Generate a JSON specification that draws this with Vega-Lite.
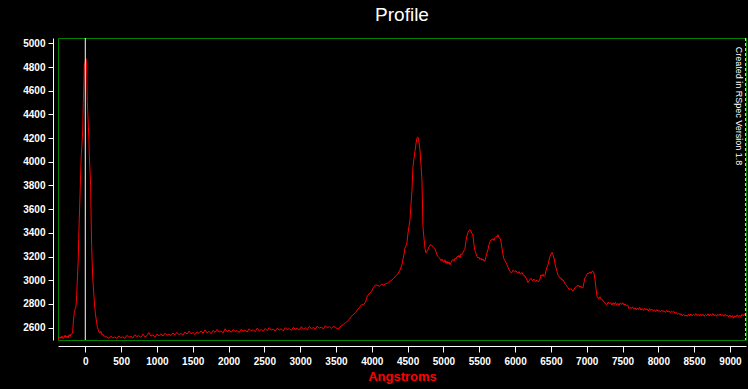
{
"$schema": "https://vega.github.io/schema/vega-lite/v6.json",
"width": 688, "height": 302,
"autosize": "none",
"padding": {"left": 58, "top": 38, "right": 2, "bottom": 49},
"background": "#000000",
"title": {"text": "Profile", "color": "#FFFFFF", "fontSize": 19, "font": "Liberation Sans", "fontWeight": "normal", "anchor": "middle", "baseline": "alphabetic", "offset": -2},
"config": {"view": {"stroke": "#008000", "strokeWidth": 1},
 "axis": {"labelOverlap": false, "labelFlush": false, "grid": false, "tickColor": "#FFFFFF", "domainColor": "#FFFFFF", "labelColor": "#FFFFFF", "labelFont": "Liberation Sans", "labelFontWeight": "bold", "labelFontSize": 10, "format": "d"}},
"datasets": {"spectrum": [
{"x":-381,"y":2512},{"x":-366,"y":2505},{"x":-352,"y":2522},{"x":-338,"y":2510},{"x":-324,"y":2528},{"x":-310,"y":2506},{"x":-296,"y":2518},{"x":-282,"y":2535},{"x":-268,"y":2515},{"x":-254,"y":2530},{"x":-240,"y":2512},{"x":-226,"y":2540},{"x":-212,"y":2525},{"x":-198,"y":2545},{"x":-184,"y":2548},{"x":-176,"y":2552},
{"x":-168,"y":2640},{"x":-160,"y":2690},{"x":-154,"y":2724},{"x":-146,"y":2745},{"x":-140,"y":2760},{"x":-130,"y":2780},{"x":-120,"y":2870},{"x":-112,"y":2990},{"x":-100,"y":3150},{"x":-92,"y":3342},{"x":-84,"y":3520},{"x":-74,"y":3707},{"x":-66,"y":3880},{"x":-56,"y":4058},{"x":-46,"y":4150},{"x":-36,"y":4269},{"x":-28,"y":4494},{"x":-20,"y":4650},{"x":-14,"y":4817},{"x":-6,"y":4830},{"x":0,"y":4845},{"x":6,"y":4860},{"x":12,"y":4870},{"x":18,"y":4800},{"x":22,"y":4700},{"x":28,"y":4508},{"x":36,"y":4400},{"x":42,"y":4311},{"x":50,"y":4200},{"x":56,"y":4058},{"x":66,"y":3920},{"x":75,"y":3791},{"x":82,"y":3500},{"x":89,"y":3285},{"x":96,"y":3150},{"x":103,"y":3033},{"x":112,"y":2950},{"x":121,"y":2864},{"x":130,"y":2790},{"x":140,"y":2724},{"x":150,"y":2680},{"x":159,"y":2640},{"x":170,"y":2600},{"x":181,"y":2583},{"x":192,"y":2560},{"x":205,"y":2555},{"x":218,"y":2568},{"x":230,"y":2540},{"x":244,"y":2545},{"x":258,"y":2525},{"x":272,"y":2530},{"x":286,"y":2518},{"x":300,"y":2522},
{"x":328,"y":2510},{"x":356,"y":2528},{"x":384,"y":2512},{"x":412,"y":2520},{"x":440,"y":2508},{"x":468,"y":2530},{"x":496,"y":2515},{"x":524,"y":2522},{"x":552,"y":2510},{"x":580,"y":2535},{"x":608,"y":2518},{"x":636,"y":2526},{"x":664,"y":2512},{"x":692,"y":2540},{"x":720,"y":2524},{"x":748,"y":2532},{"x":776,"y":2515},{"x":804,"y":2545},{"x":832,"y":2522},{"x":860,"y":2530},{"x":888,"y":2558},{"x":916,"y":2528},{"x":944,"y":2538},{"x":972,"y":2520},{"x":1000,"y":2545},{"x":1028,"y":2530},{"x":1056,"y":2548},{"x":1084,"y":2528},{"x":1112,"y":2552},{"x":1140,"y":2535},{"x":1168,"y":2545},{"x":1196,"y":2532},{"x":1224,"y":2555},{"x":1252,"y":2538},{"x":1280,"y":2560},{"x":1308,"y":2540},{"x":1336,"y":2550},{"x":1364,"y":2535},{"x":1392,"y":2562},{"x":1420,"y":2545},{"x":1448,"y":2570},{"x":1476,"y":2548},{"x":1504,"y":2558},{"x":1532,"y":2542},{"x":1560,"y":2565},{"x":1588,"y":2550},{"x":1616,"y":2572},{"x":1644,"y":2552},{"x":1672,"y":2580},{"x":1700,"y":2555},{"x":1728,"y":2568},{"x":1756,"y":2548},{"x":1784,"y":2575},{"x":1812,"y":2560},{"x":1840,"y":2585},{"x":1868,"y":2562},{"x":1896,"y":2572},{"x":1924,"y":2555},{"x":1952,"y":2590},{"x":1980,"y":2565},{"x":2008,"y":2578},{"x":2036,"y":2560},{"x":2064,"y":2582},{"x":2092,"y":2568},{"x":2120,"y":2575},{"x":2148,"y":2558},{"x":2176,"y":2585},{"x":2204,"y":2570},{"x":2232,"y":2580},{"x":2260,"y":2562},{"x":2288,"y":2590},{"x":2316,"y":2572},{"x":2344,"y":2582},{"x":2372,"y":2565},{"x":2400,"y":2595},{"x":2428,"y":2570},{"x":2456,"y":2585},{"x":2484,"y":2568},{"x":2512,"y":2592},{"x":2540,"y":2575},{"x":2568,"y":2600},{"x":2596,"y":2578},{"x":2624,"y":2588},{"x":2652,"y":2570},{"x":2680,"y":2595},{"x":2708,"y":2580},{"x":2736,"y":2590},{"x":2764,"y":2572},{"x":2792,"y":2600},{"x":2820,"y":2582},{"x":2848,"y":2592},{"x":2876,"y":2575},{"x":2904,"y":2602},{"x":2932,"y":2585},{"x":2960,"y":2595},{"x":2988,"y":2578},{"x":3016,"y":2608},{"x":3044,"y":2588},{"x":3072,"y":2598},{"x":3100,"y":2582},{"x":3128,"y":2610},{"x":3156,"y":2590},{"x":3184,"y":2600},{"x":3212,"y":2585},{"x":3240,"y":2612},{"x":3268,"y":2595},{"x":3296,"y":2605},{"x":3324,"y":2588},{"x":3352,"y":2615},{"x":3380,"y":2598},{"x":3408,"y":2608},{"x":3436,"y":2592},{"x":3464,"y":2612},{"x":3492,"y":2600},{"x":3520,"y":2590},{"x":3548,"y":2595},
{"x":3576,"y":2618},{"x":3604,"y":2625},{"x":3632,"y":2640},{"x":3660,"y":2655},{"x":3688,"y":2670},{"x":3716,"y":2695},{"x":3744,"y":2712},{"x":3772,"y":2725},{"x":3800,"y":2750},{"x":3828,"y":2770},{"x":3856,"y":2795},{"x":3884,"y":2790},{"x":3912,"y":2815},{"x":3940,"y":2870},{"x":3968,"y":2890},{"x":3996,"y":2905},{"x":4024,"y":2940},{"x":4052,"y":2960},{"x":4080,"y":2955},{"x":4108,"y":2950},{"x":4136,"y":2965},{"x":4164,"y":2958},{"x":4192,"y":2968},{"x":4220,"y":2975},{"x":4248,"y":2990},{"x":4276,"y":3000},{"x":4304,"y":3015},{"x":4332,"y":3035},{"x":4360,"y":3050},{"x":4393,"y":3085},{"x":4421,"y":3131},{"x":4435,"y":3175},{"x":4449,"y":3220},{"x":4463,"y":3272},{"x":4477,"y":3290},{"x":4491,"y":3314},{"x":4505,"y":3398},{"x":4519,"y":3450},{"x":4533,"y":3510},{"x":4547,"y":3640},{"x":4561,"y":3763},{"x":4575,"y":3960},{"x":4589,"y":4030},{"x":4602,"y":4086},{"x":4616,"y":4150},{"x":4630,"y":4199},{"x":4644,"y":4208},{"x":4658,"y":4170},{"x":4672,"y":4101},{"x":4686,"y":3980},{"x":4700,"y":3848},{"x":4714,"y":3454},{"x":4728,"y":3356},{"x":4742,"y":3270},{"x":4756,"y":3230},{"x":4770,"y":3245},{"x":4784,"y":3258},{"x":4798,"y":3280},{"x":4812,"y":3295},{"x":4826,"y":3300},{"x":4840,"y":3290},{"x":4854,"y":3285},{"x":4868,"y":3275},{"x":4882,"y":3265},{"x":4896,"y":3240},{"x":4910,"y":3215},{"x":4924,"y":3200},{"x":4938,"y":3190},{"x":4952,"y":3180},{"x":4966,"y":3165},{"x":4980,"y":3178},{"x":4994,"y":3160},{"x":5008,"y":3150},{"x":5022,"y":3172},{"x":5036,"y":3142},{"x":5050,"y":3160},{"x":5064,"y":3138},{"x":5078,"y":3155},{"x":5092,"y":3130},{"x":5106,"y":3150},{"x":5120,"y":3168},{"x":5134,"y":3175},{"x":5148,"y":3162},{"x":5162,"y":3185},{"x":5176,"y":3178},{"x":5190,"y":3200},{"x":5204,"y":3195},{"x":5218,"y":3210},{"x":5232,"y":3190},{"x":5246,"y":3222},{"x":5260,"y":3215},{"x":5274,"y":3235},{"x":5288,"y":3250},{"x":5300,"y":3260},{"x":5314,"y":3330},{"x":5328,"y":3375},{"x":5342,"y":3400},{"x":5356,"y":3420},{"x":5370,"y":3426},{"x":5384,"y":3415},{"x":5398,"y":3395},{"x":5412,"y":3380},{"x":5426,"y":3300},{"x":5440,"y":3250},{"x":5454,"y":3225},{"x":5468,"y":3200},{"x":5482,"y":3187},{"x":5496,"y":3195},{"x":5510,"y":3175},{"x":5524,"y":3185},{"x":5538,"y":3168},{"x":5552,"y":3180},{"x":5566,"y":3160},{"x":5580,"y":3162},{"x":5594,"y":3200},{"x":5608,"y":3230},{"x":5622,"y":3258},{"x":5636,"y":3300},{"x":5650,"y":3325},{"x":5664,"y":3340},{"x":5678,"y":3342},{"x":5692,"y":3350},{"x":5706,"y":3335},{"x":5720,"y":3360},{"x":5734,"y":3370},{"x":5748,"y":3365},{"x":5761,"y":3384},{"x":5775,"y":3360},{"x":5789,"y":3355},{"x":5803,"y":3328},{"x":5817,"y":3270},{"x":5831,"y":3215},{"x":5845,"y":3180},{"x":5859,"y":3165},{"x":5873,"y":3150},{"x":5887,"y":3131},{"x":5901,"y":3110},{"x":5915,"y":3090},{"x":5929,"y":3075},{"x":5950,"y":3060},{"x":5971,"y":3085},{"x":5992,"y":3070},{"x":6013,"y":3080},{"x":6034,"y":3058},{"x":6055,"y":3072},{"x":6076,"y":3050},{"x":6097,"y":3065},{"x":6118,"y":3040},{"x":6139,"y":3035},{"x":6160,"y":3010},{"x":6180,"y":2980},{"x":6201,"y":3000},{"x":6222,"y":3015},{"x":6243,"y":2995},{"x":6264,"y":3010},{"x":6285,"y":2990},{"x":6306,"y":3000},{"x":6327,"y":2985},{"x":6348,"y":3010},{"x":6362,"y":3045},{"x":6376,"y":3035},{"x":6390,"y":3050},{"x":6404,"y":3030},{"x":6418,"y":3040},{"x":6432,"y":3080},{"x":6446,"y":3110},{"x":6460,"y":3131},{"x":6474,"y":3170},{"x":6488,"y":3201},{"x":6502,"y":3220},{"x":6516,"y":3235},{"x":6530,"y":3215},{"x":6543,"y":3187},{"x":6557,"y":3140},{"x":6571,"y":3105},{"x":6585,"y":3075},{"x":6599,"y":3045},{"x":6613,"y":3030},{"x":6627,"y":3019},{"x":6641,"y":3020},{"x":6655,"y":3000},{"x":6669,"y":3005},{"x":6683,"y":2990},{"x":6697,"y":2970},{"x":6711,"y":2960},{"x":6725,"y":2949},{"x":6739,"y":2935},{"x":6753,"y":2925},{"x":6767,"y":2921},{"x":6781,"y":2930},{"x":6795,"y":2915},{"x":6809,"y":2907},{"x":6823,"y":2925},{"x":6837,"y":2935},{"x":6851,"y":2945},{"x":6865,"y":2955},{"x":6878,"y":2949},{"x":6892,"y":2955},{"x":6906,"y":2940},{"x":6920,"y":2950},{"x":6934,"y":2935},{"x":6948,"y":2935},{"x":6962,"y":2980},{"x":6976,"y":3020},{"x":6990,"y":3033},{"x":7004,"y":3050},{"x":7018,"y":3061},{"x":7032,"y":3055},{"x":7046,"y":3070},{"x":7060,"y":3058},{"x":7074,"y":3075},{"x":7088,"y":3075},{"x":7102,"y":3060},{"x":7116,"y":3005},{"x":7130,"y":2930},{"x":7144,"y":2864},{"x":7158,"y":2850},{"x":7172,"y":2845},{"x":7186,"y":2860},{"x":7200,"y":2840},{"x":7214,"y":2836},{"x":7228,"y":2830},{"x":7242,"y":2815},{"x":7256,"y":2805},{"x":7270,"y":2798},{"x":7283,"y":2794},{"x":7300,"y":2815},{"x":7317,"y":2800},{"x":7334,"y":2810},{"x":7351,"y":2790},{"x":7367,"y":2808},{"x":7384,"y":2795},{"x":7401,"y":2812},{"x":7418,"y":2790},{"x":7435,"y":2805},{"x":7452,"y":2788},{"x":7469,"y":2808},{"x":7486,"y":2795},{"x":7503,"y":2810},{"x":7520,"y":2790},{"x":7537,"y":2800},{"x":7554,"y":2785},{"x":7571,"y":2790},{"x":7590,"y":2760},{"x":7605,"y":2770},{"x":7622,"y":2760},{"x":7639,"y":2775},{"x":7656,"y":2755},{"x":7673,"y":2768},{"x":7690,"y":2750},{"x":7707,"y":2765},{"x":7724,"y":2752},{"x":7741,"y":2770},{"x":7758,"y":2748},{"x":7775,"y":2760},{"x":7792,"y":2745},{"x":7809,"y":2762},{"x":7826,"y":2750},{"x":7843,"y":2758},{"x":7860,"y":2740},{"x":7877,"y":2760},{"x":7894,"y":2745},{"x":7911,"y":2755},{"x":7928,"y":2740},{"x":7945,"y":2750},{"x":7962,"y":2735},{"x":7979,"y":2752},{"x":7996,"y":2738},{"x":8013,"y":2745},{"x":8030,"y":2730},{"x":8047,"y":2748},{"x":8064,"y":2735},{"x":8081,"y":2742},{"x":8098,"y":2728},{"x":8115,"y":2745},{"x":8132,"y":2732},{"x":8149,"y":2740},{"x":8166,"y":2725},{"x":8183,"y":2738},{"x":8200,"y":2730},{"x":8217,"y":2735},{"x":8234,"y":2720},{"x":8251,"y":2728},{"x":8268,"y":2712},{"x":8285,"y":2722},{"x":8302,"y":2708},{"x":8319,"y":2718},{"x":8336,"y":2700},{"x":8353,"y":2712},{"x":8370,"y":2698},{"x":8387,"y":2705},{"x":8404,"y":2695},{"x":8421,"y":2712},{"x":8438,"y":2700},{"x":8455,"y":2715},{"x":8472,"y":2698},{"x":8489,"y":2710},{"x":8506,"y":2700},{"x":8523,"y":2718},{"x":8540,"y":2702},{"x":8557,"y":2712},{"x":8574,"y":2698},{"x":8591,"y":2715},{"x":8608,"y":2700},{"x":8625,"y":2712},{"x":8642,"y":2695},{"x":8659,"y":2710},{"x":8676,"y":2700},{"x":8693,"y":2716},{"x":8710,"y":2698},{"x":8727,"y":2712},{"x":8744,"y":2702},{"x":8761,"y":2718},{"x":8778,"y":2700},{"x":8795,"y":2710},{"x":8812,"y":2695},{"x":8829,"y":2712},{"x":8846,"y":2700},{"x":8863,"y":2715},{"x":8880,"y":2698},{"x":8897,"y":2708},{"x":8914,"y":2695},{"x":8931,"y":2712},{"x":8948,"y":2698},{"x":8965,"y":2705},{"x":8982,"y":2690},{"x":8999,"y":2706},{"x":9016,"y":2688},{"x":9033,"y":2702},{"x":9050,"y":2680},{"x":9067,"y":2700},{"x":9084,"y":2690},{"x":9101,"y":2708},{"x":9118,"y":2692},{"x":9135,"y":2705},{"x":9152,"y":2690},{"x":9169,"y":2712},{"x":9186,"y":2698},{"x":9203,"y":2715},{"x":9220,"y":2705}
],
"marker": [{"label": "Created in RSpec Version 1.8"}]},
"layer": [
{"data": {"name": "spectrum"},
 "mark": {"type": "line", "color": "#FF0000", "strokeWidth": 1, "clip": true},
 "encoding": {
  "x": {"field": "x", "type": "quantitative", "scale": {"domain": [-381, 9224], "nice": false, "zero": false},
   "axis": {"offset": 6, "values": [0,500,1000,1500,2000,2500,3000,3500,4000,4500,5000,5500,6000,6500,7000,7500,8000,8500,9000], "format": "d", "labelOverlap": false, "tickSize": 6, "labelPadding": 4, "title": "Angstroms", "titleColor": "#FF0000", "titleFont": "Liberation Sans", "titleFontSize": 13, "titleFontWeight": "bold", "titlePadding": 4}},
  "y": {"field": "y", "type": "quantitative", "scale": {"domain": [2495, 5045], "nice": false, "zero": false},
   "axis": {"offset": 5, "values": [2600,2800,3000,3200,3400,3600,3800,4000,4200,4400,4600,4800,5000], "format": "d", "labelOverlap": false, "tickSize": 5, "labelPadding": 3, "title": null}}
 }},
{"data": {"name": "marker"}, "mark": {"type": "rule", "color": "#FFFFFF", "strokeWidth": 1},
 "encoding": {"x": {"datum": 0, "axis": {"offset": 6, "values": [0,500,1000,1500,2000,2500,3000,3500,4000,4500,5000,5500,6000,6500,7000,7500,8000,8500,9000], "format": "d", "labelOverlap": false, "tickSize": 6, "labelPadding": 4, "title": "Angstroms", "titleColor": "#FF0000", "titleFont": "Liberation Sans", "titleFontSize": 13, "titleFontWeight": "bold", "titlePadding": 4}}}},
{"data": {"name": "marker"}, "mark": {"type": "rule", "color": "#FFFF00", "strokeWidth": 1, "strokeDash": [3, 2]},
 "encoding": {"x": {"datum": 9218, "axis": {"offset": 6, "values": [0,500,1000,1500,2000,2500,3000,3500,4000,4500,5000,5500,6000,6500,7000,7500,8000,8500,9000], "format": "d", "labelOverlap": false, "tickSize": 6, "labelPadding": 4, "title": "Angstroms", "titleColor": "#FF0000", "titleFont": "Liberation Sans", "titleFontSize": 13, "titleFontWeight": "bold", "titlePadding": 4}}}},
{"data": {"name": "marker"}, "mark": {"type": "text", "angle": 90, "align": "left", "baseline": "middle", "color": "#FFFFFF", "fontSize": 9, "font": "Liberation Sans"},
 "encoding": {
  "x": {"datum": 9126, "axis": {"offset": 6, "values": [0,500,1000,1500,2000,2500,3000,3500,4000,4500,5000,5500,6000,6500,7000,7500,8000,8500,9000], "format": "d", "labelOverlap": false, "tickSize": 6, "labelPadding": 4, "title": "Angstroms", "titleColor": "#FF0000", "titleFont": "Liberation Sans", "titleFontSize": 13, "titleFontWeight": "bold", "titlePadding": 4}},
  "y": {"datum": 4972, "axis": {"offset": 5, "values": [2600,2800,3000,3200,3400,3600,3800,4000,4200,4400,4600,4800,5000], "format": "d", "labelOverlap": false, "tickSize": 5, "labelPadding": 3, "title": null}},
  "text": {"field": "label"}}}
]
}
